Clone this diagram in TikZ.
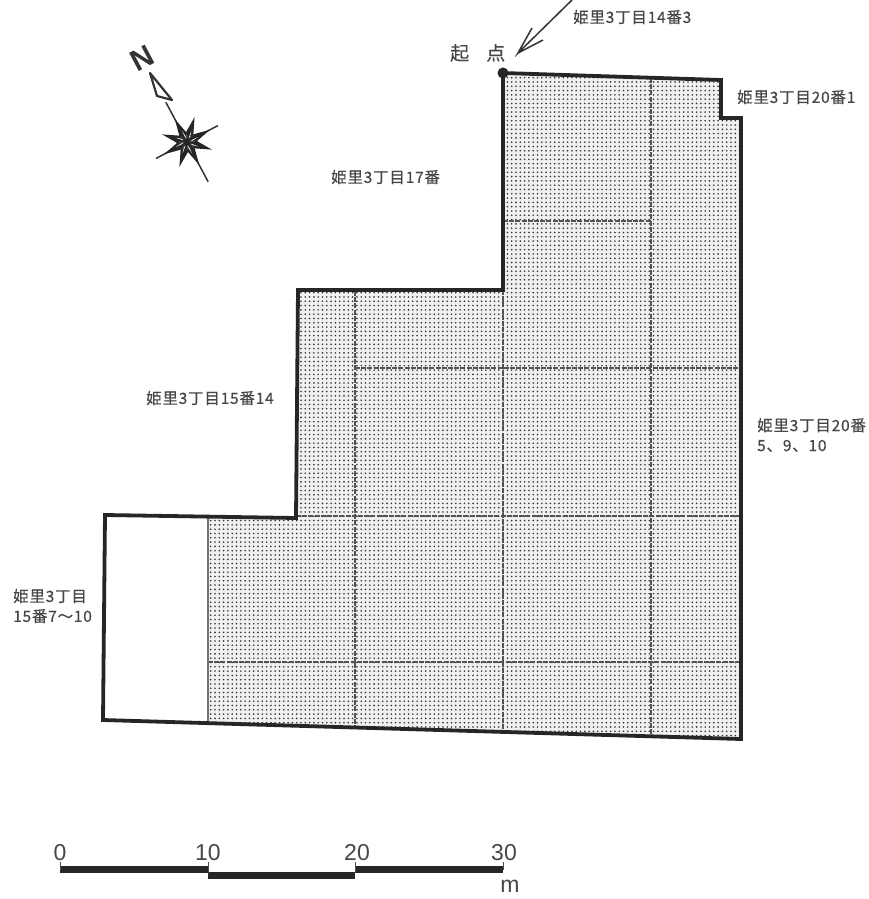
\documentclass[tikz,border=0pt]{standalone}
\usepackage{amssymb,amsmath}
\usepackage{fontspec}
\setmainfont{Liberation Sans}
\newfontfamily\jpfont[LetterSpace=5,FakeBold=0.5]{Noto Sans CJK JP}
\newfontfamily\startfont[FakeBold=0.4]{Noto Sans CJK JP}
\usetikzlibrary{patterns.meta}
\tikzset{
	plotlabel/.style={font=\jpfont\fontsize{15.5}{20}\selectfont,color=black!72,align=left,inner sep=0pt},
	scalelabel/.style={font=\fontsize{23}{23}\selectfont,color=black!72,inner sep=0pt},
	outline/.style={line width=3.8pt,color=black!85,line join=miter},
	gridline/.style={line width=1.3pt,color=black!68,dash pattern=on 5pt off 1.2pt},
	dotfill/.style={pattern={Dots[radius=0.9pt,distance=4.3pt,angle=0]},pattern color=black!80}
}
\begin{document}
\begin{tikzpicture}[x=1pt,y=-1pt]
	\useasboundingbox (0,0) rectangle (869,899);
	\fill[white] (0,0) rectangle (869,899);
	%site corners
	\coordinate (p0) at (503,73); \coordinate (p1) at (721,80); \coordinate (p2) at (721,118);
	\coordinate (p3) at (741,118); \coordinate (p4) at (741,739); \coordinate (p5) at (208,722);
	\coordinate (p6) at (103,720); \coordinate (p7) at (105,515); \coordinate (p8) at (208,517);
	\coordinate (p9) at (296,518); \coordinate (p10) at (298,290); \coordinate (p11) at (503,290);
	\fill[black!6] (p0) -- (p1) -- (p2) -- (p3) -- (p4) -- (p5) -- (p8) -- (p9) -- (p10) -- (p11) -- cycle;
	\fill[dotfill] (p0) -- (p1) -- (p2) -- (p3) -- (p4) -- (p5) -- (p8) -- (p9) -- (p10) -- (p11) -- cycle;
	%inner lines
	\draw[gridline] (355,291) -- (355,726);
	\draw[gridline] (503,73) -- (503,731);
	\draw[gridline] (651,78) -- (651,735);
	\draw[gridline] (503,221) -- (651,221);
	\draw[gridline] (355,368) -- (741,368);
	\draw[gridline] (296,516) -- (741,516);
	\draw[gridline] (208,662) -- (741,662);
	\draw[line width=1.2pt,color=black!55] (p8) -- (p5);
	\draw[outline] (p0) -- (p1) -- (p2) -- (p3) -- (p4) -- (p6) -- (p7) -- (p9) -- (p10) -- (p11) -- cycle;
	\fill[black!85] (p0) circle (5.5pt);
	%labels
	\node[plotlabel,font=\startfont\fontsize{19}{20}\selectfont,anchor=west] (start) at (450,53) {起\hspace{0.9em}点};
	\node[plotlabel,anchor=west] (n1) at (573,17) {姫里3丁目14番3};
	\node[plotlabel,anchor=west] (n2) at (737,97) {姫里3丁目20番1};
	\node[plotlabel,anchor=west] (n3) at (331,177) {姫里3丁目17番};
	\node[plotlabel,anchor=west] (n4) at (146,398) {姫里3丁目15番14};
	\node[plotlabel,anchor=west] (n5) at (757,435) {姫里3丁目20番\\5、9、10};
	\node[plotlabel,anchor=west] (n6) at (13,606) {姫里3丁目\\15番7〜10};
	%arrow to start
	\coordinate (a0) at (572,0); \coordinate (a1) at (518,53);
	\draw[line width=1.5pt,color=black!80] (a0) -- (a1) -- (532,28) (a1) -- (543,40);
	%north mark
	\draw[line width=2.2pt,color=black!80,line join=round] (150,73) -- (157,96) -- (172,100) -- cycle;
	\node[font=\bfseries\fontsize{30}{30}\selectfont,color=black!80,inner sep=0pt,rotate=28] (north) at (142,58) {N};
	\begin{scope}[shift={(187,142)},rotate=28]
		\draw[line width=1.5pt,color=black!80] (0,-45) -- (0,45);
		\draw[line width=1.5pt,color=black!80] (-35,0) -- (35,0);
		\foreach \a in {0,45,...,315}{
			\fill[black!85] (\a:26) -- (\a+22.5:10) -- (0,0) -- (\a-22.5:10) -- cycle;
			\fill[white] (\a+6:4) -- (\a+4:12) -- (\a+14:6) -- cycle;
		}
	\end{scope}
	%scale bar
	\fill[black!85] (60,866) rectangle (208,873);
	\fill[black!85] (208,872) rectangle (355,879);
	\fill[black!85] (355,866) rectangle (503,873);
	\draw[line width=0.8pt,color=black!70] (60,862) -- (60,870) (208,862) -- (208,873) (355,862) -- (355,873) (503,862) -- (503,870);
	\node[scalelabel] (s0) at (60,853) {0};
	\node[scalelabel] (s1) at (208,853) {10};
	\node[scalelabel] (s2) at (357,853) {20};
	\node[scalelabel] (s3) at (504,853) {30};
	\node[scalelabel] (unit) at (510,886) {m};
\end{tikzpicture}
\end{document}
